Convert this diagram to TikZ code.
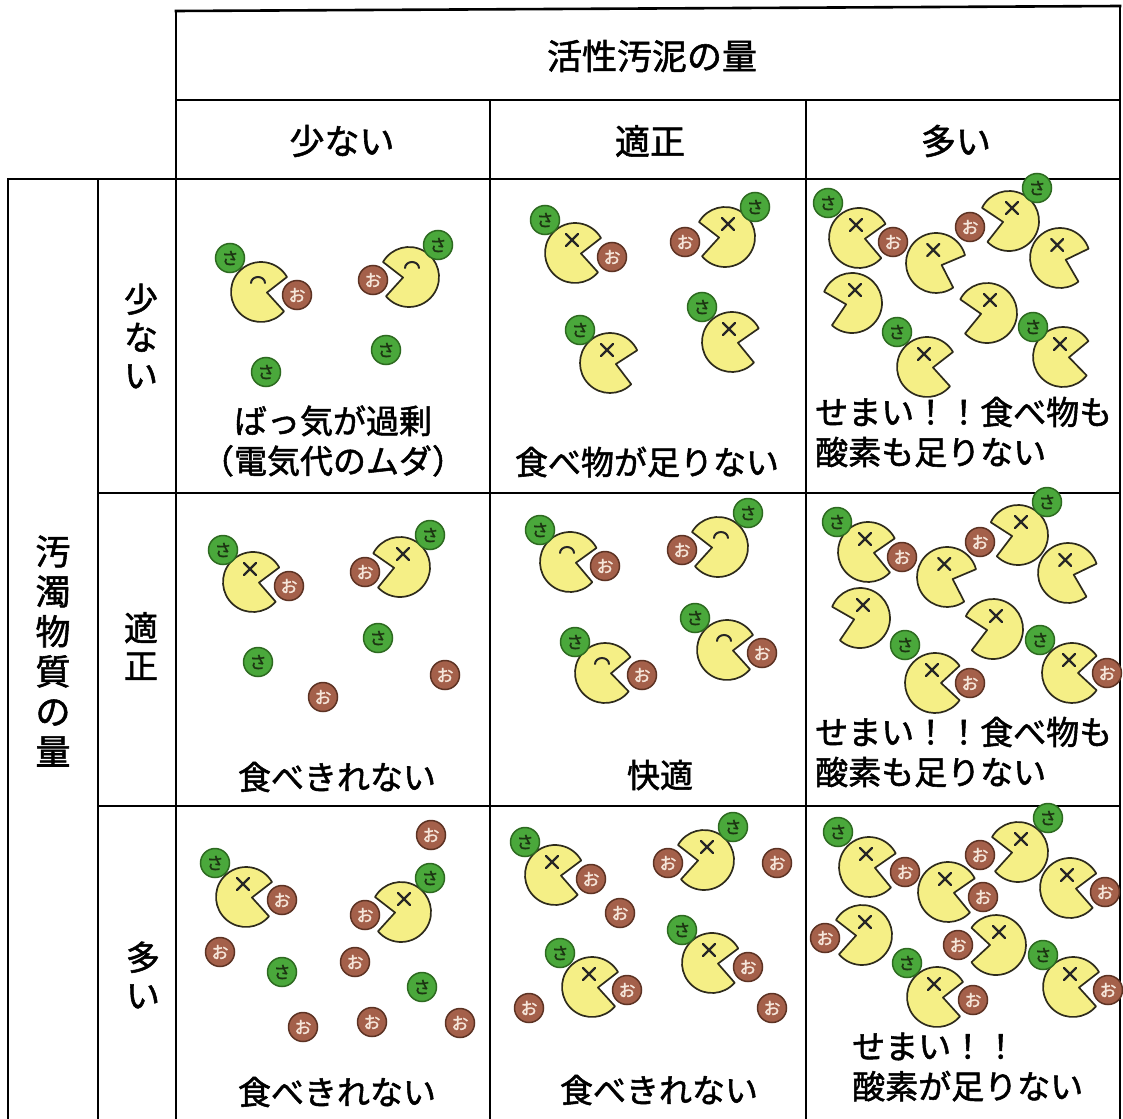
\documentclass[tikz,border=0pt]{standalone}
\usepackage{fontspec}
\setmainfont{Noto Sans CJK JP}[FakeBold=1.6]

\definecolor{pacfill}{HTML}{F5EF86}
\definecolor{pacline}{HTML}{2E2B1C}
\definecolor{sagreen}{HTML}{4AA83B}
\definecolor{sadark}{HTML}{2D6A20}
\definecolor{satext}{HTML}{1C3412}
\definecolor{oobrown}{HTML}{A4604A}
\definecolor{oodark}{HTML}{5C3223}
\definecolor{ootext}{HTML}{F6E6DA}

\tikzset{
  grid/.style={line width=2.6pt,line cap=rect},
  pacman/.style={fill=pacfill,draw=pacline,line width=1.7pt,line join=round},
  eyeline/.style={draw=black!85,line width=2.3pt,line cap=round},
  ball/.style={circle,line width=1.5pt,minimum size=29pt,inner sep=0pt,font=\fontsize{17}{17}\selectfont},
  saball/.style={ball,fill=sagreen,draw=sadark,text=satext},
  ooball/.style={ball,fill=oobrown,draw=oodark,text=ootext},
  label/.style={inner sep=0pt,font=\fontsize{33}{40}\selectfont},
  head/.style={inner sep=0pt,font=\fontsize{35}{40}\selectfont}
}

\newcommand{\pac}[4]{%
  \begin{scope}[shift={(#1,#2)}]
    \filldraw[pacman] (#3+35:30) arc[start angle=#3+35,end angle=#3+325,radius=30] -- (#3:6) -- cycle;
    \coordinate (eye) at ({-3*cos(#3)},-13);
    #4
  \end{scope}}
\newcommand{\facedead}{\draw[eyeline] ([shift={(-6,-6)}]eye) -- ([shift={(6,6)}]eye) ([shift={(-6,6)}]eye) -- ([shift={(6,-6)}]eye);}
\newcommand{\facehappy}{\draw[eyeline,line width=2pt] ([shift={(-7,4)}]eye) arc[start angle=180,end angle=360,x radius=7,y radius=6];}
\newcommand{\sball}[2]{\node[saball] at (#1,#2) {さ};}
\newcommand{\oball}[2]{\node[ooball] at (#1,#2) {お};}

\begin{document}
\begin{tikzpicture}[x=1pt,y=-1pt]
\useasboundingbox (0,0) rectangle (1123,1118);
\clip (0,0) rectangle (1123,1118);

\draw[grid] (176,11) -- (1120,6);
\draw[grid] (176,100) -- (1120,100);
\draw[grid] (8,179) -- (1120,179);
\draw[grid] (98,493) -- (1120,493);
\draw[grid] (98,806) -- (1120,806);
\draw[grid] (8,179) -- (8,1130);
\draw[grid] (98,179) -- (98,1130);
\draw[grid] (176,11) -- (176,1130);
\draw[grid] (490,100) -- (490,1130);
\draw[grid] (806,100) -- (806,1130);
\draw[grid] (1120,6) -- (1120,1130);

\node[head] (sludge) at (652,56) {活性汚泥の量};
\node[head] (sfew) at (342,141) {少ない};
\node[head] (sok) at (650,141) {適正};
\node[head] (smany) at (956,141) {多い};
\node[head,align=center] (load) at (53,651) {汚\\濁\\物\\質\\の\\量};
\node[head,align=center,font=\fontsize{34}{38}\selectfont] (lfew) at (141,336) {少\\な\\い};
\node[head,align=center,font=\fontsize{34}{38}\selectfont] (lok) at (141,646) {適\\正};
\node[head,align=center,font=\fontsize{34}{38}\selectfont] (lmany) at (143,975) {多\\い};

\pac{261}{292}{5}{\facehappy}
\pac{409}{277}{175}{\facehappy}

\pac{575}{253}{5}{\facedead}
\pac{725}{237}{175}{\facedead}
\pac{610}{363}{10}{\facedead}
\pac{732}{342}{8}{\facedead}

\pac{859}{238}{7}{\facedead}
\pac{936}{263}{20}{\facedead}
\pac{1009}{221}{171}{\facedead}
\pac{1060}{258}{17}{\facedead}
\pac{852}{303}{167}{\facedead}
\pac{987}{313}{172}{\facedead}
\pac{927}{367}{5}{\facedead}
\pac{1063}{357}{3}{\facedead}

\pac{253}{582}{6}{\facedead}
\pac{400}{567}{172}{\facedead}

\pac{570}{562}{7}{\facehappy}
\pac{718}{547}{175}{\facehappy}
\pac{605}{673}{3}{\facehappy}
\pac{727}{650}{5}{\facehappy}

\pac{868}{552}{8}{\facedead}
\pac{947}{577}{20}{\facedead}
\pac{1018}{535}{170}{\facedead}
\pac{1068}{573}{17}{\facedead}
\pac{860}{618}{167}{\facedead}
\pac{993}{629}{170}{\facedead}
\pac{935}{683}{0}{\facedead}
\pac{1072}{673}{0}{\facedead}

\pac{246}{897}{5}{\facedead}
\pac{401}{912}{175}{\facedead}

\pac{555}{875}{6}{\facedead}
\pac{704}{860}{175}{\facedead}
\pac{592}{987}{5}{\facedead}
\pac{712}{963}{6}{\facedead}

\pac{869}{867}{8}{\facedead}
\pac{948}{892}{8}{\facedead}
\pac{1018}{852}{175}{\facedead}
\pac{1070}{888}{6}{\facedead}
\pac{862}{935}{175}{\facedead}
\pac{996}{945}{180}{\facedead}
\pac{937}{997}{5}{\facedead}
\pac{1073}{987}{5}{\facedead}

\sball{230}{258} \oball{297}{295} \sball{438}{245} \oball{373}{280}
\sball{266}{372} \sball{386}{350}

\sball{545}{220} \oball{612}{257} \sball{755}{207} \oball{685}{242}
\sball{580}{330} \sball{702}{307}

\sball{828}{203} \oball{893}{242} \sball{1037}{188} \oball{970}{227}
\sball{897}{332} \sball{1033}{327}

\sball{223}{550} \oball{289}{586} \sball{430}{535} \oball{365}{572}
\sball{378}{638} \sball{258}{662} \oball{323}{697} \oball{445}{675}

\sball{540}{530} \oball{605}{566} \sball{748}{513} \oball{682}{550}
\sball{575}{642} \oball{642}{675} \sball{695}{618} \oball{762}{653}

\sball{837}{522} \oball{902}{557} \sball{1047}{502} \oball{980}{542}
\sball{905}{645} \oball{970}{683} \sball{1040}{640} \oball{1107}{673}

\sball{215}{863} \oball{282}{900} \sball{430}{878} \oball{365}{915}
\oball{431}{835} \oball{220}{952} \sball{282}{972} \oball{355}{962}
\sball{422}{987} \oball{303}{1027} \oball{372}{1022} \oball{460}{1023}

\sball{525}{842} \oball{591}{879} \sball{733}{827} \oball{668}{863}
\oball{620}{913} \oball{777}{863} \sball{560}{953} \oball{627}{990}
\sball{682}{930} \oball{748}{967} \oball{529}{1008} \oball{772}{1008}

\sball{838}{832} \oball{905}{872} \oball{983}{897} \sball{1048}{818}
\oball{980}{855} \oball{1105}{892} \oball{825}{938} \oball{958}{945}
\sball{907}{963} \oball{973}{1000} \sball{1043}{955} \oball{1108}{990}

\node[label,align=center] (waste) at (333,441) {ばっ気が過剰\\（電気代のムダ）};
\node[label] (hungry) at (647,462) {食べ物が足りない};
\node[label,anchor=west,align=left] (crowdA) at (815,432) {せまい！！食べ物も\\酸素も足りない};
\node[label] (leftA) at (337,777) {食べきれない};
\node[label] (comfy) at (660,775) {快適};
\node[label,anchor=west,align=left] (crowdB) at (815,752) {せまい！！食べ物も\\酸素も足りない};
\node[label] (leftB) at (337,1092) {食べきれない};
\node[label] (leftC) at (659,1090) {食べきれない};
\node[label,anchor=west,align=left] (crowdC) at (852,1067) {せまい！！\\酸素が足りない};
\end{tikzpicture}
\end{document}
